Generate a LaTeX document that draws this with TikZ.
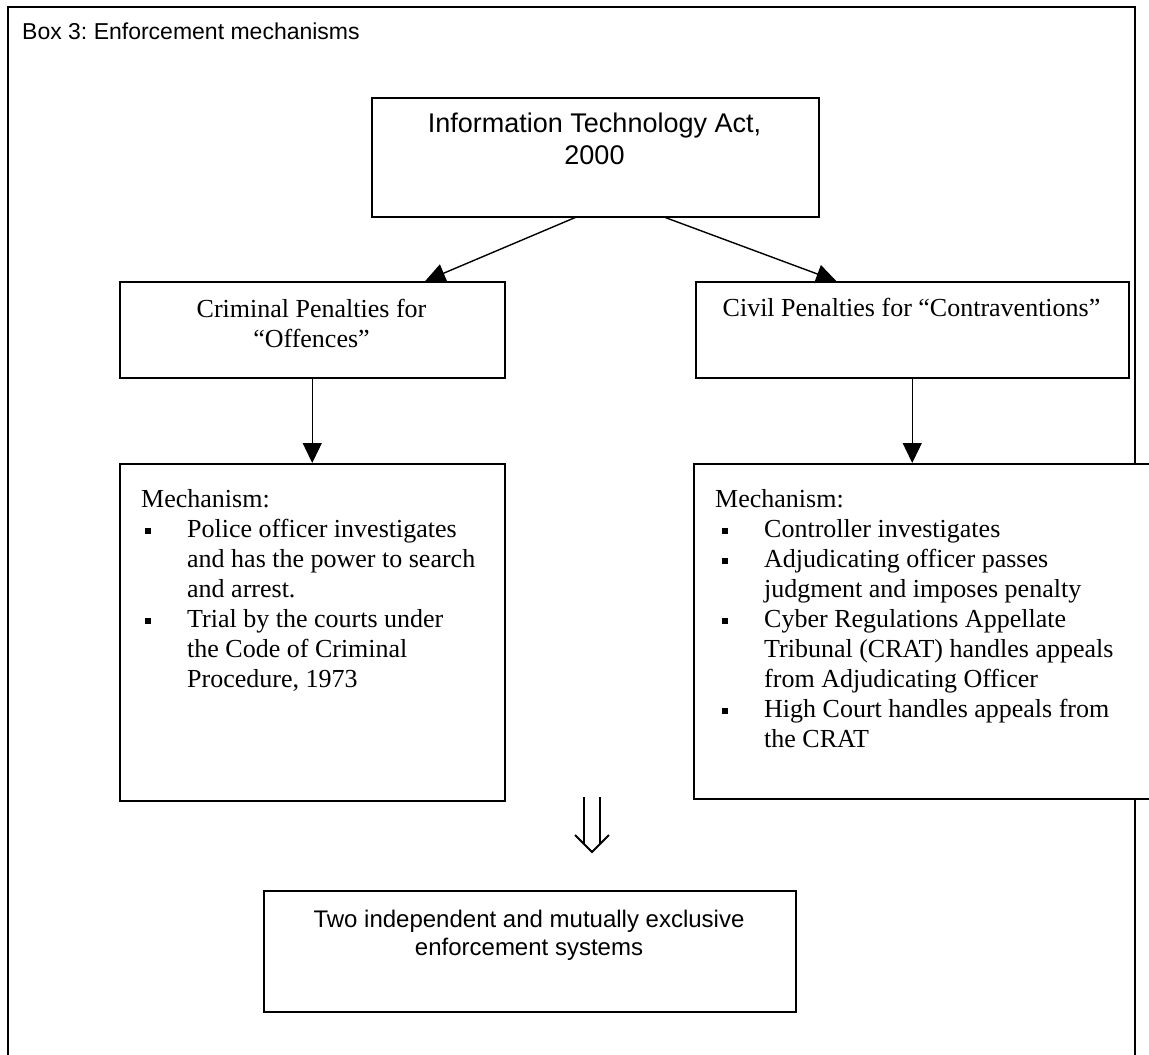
\documentclass[tikz,border=0pt]{standalone}
\usepackage{fontspec}
\setmainfont{Liberation Serif}
\newfontfamily\arialf{Liberation Sans}
\usetikzlibrary{arrows.meta}
\frenchspacing
\begin{document}
\begin{tikzpicture}[x=1pt,y=-1pt,
  box/.style={draw, line width=1.5pt, inner sep=0pt, fill=white},
  conn/.style={line width=1.4pt, -{Triangle[length=20pt,width=19pt]}},
  tms/.style={font=\fontsize{26}{30}\selectfont, inner sep=0pt},
  ari/.style={font=\arialf\fontsize{24}{28}\selectfont, inner sep=0pt},
  arib/.style={font=\arialf\fontsize{27}{32}\selectfont, inner sep=0pt},
  bul/.style={fill, draw=none, inner sep=0pt, minimum size=6pt}
]
\useasboundingbox (0,0) rectangle (1149,1055);
% outer frame
\coordinate (fbl) at (8,1060);
\coordinate (ftl) at (8,7);
\coordinate (ftr) at (1135,7);
\coordinate (fbr) at (1135,1060);
\draw[line width=2.2pt] (fbl) -- (ftl) -- (ftr) -- (fbr);
\node[ari, font=\arialf\fontsize{23}{27}\selectfont, anchor=base west] (title) at (22,39) {Box 3: Enforcement mechanisms};

% boxes
\node[box, minimum width=447pt, minimum height=119pt, anchor=north west] (act) at (371,97) {};
\node[box, minimum width=385pt, minimum height=96pt, anchor=north west] (crim) at (119,281) {};
\node[box, minimum width=433pt, minimum height=96pt, anchor=north west] (civ) at (695,281) {};
\node[box, minimum width=385pt, minimum height=337pt, anchor=north west] (mechL) at (119,463) {};
\node[box, minimum width=475pt, minimum height=335pt, anchor=north west] (mechR) at (693,463) {};
\node[box, minimum width=532pt, minimum height=121pt, anchor=north west] (sys) at (263,890) {};

% texts
\node[arib, anchor=base] (actA) at (594.5,132) {Information Technology Act,};
\node[arib, anchor=base] (actB) at (594.5,164) {2000};
\node[tms, anchor=base] (crimA) at (311.5,317) {Criminal Penalties for};
\node[tms, anchor=base] (crimB) at (311.5,347) {“Offences”};
\node[tms, anchor=base] (civA) at (911.5,316) {Civil Penalties for “Contraventions”};

\node[tms, anchor=base west] (mL0) at (141,507) {Mechanism:};
\node[tms, anchor=base west] (mL1) at (187,537) {Police officer investigates};
\node[tms, anchor=base west] (mL2) at (187,567) {and has the power to search};
\node[tms, anchor=base west] (mL3) at (187,597) {and arrest.};
\node[tms, anchor=base west] (mL4) at (187,627) {Trial by the courts under};
\node[tms, anchor=base west] (mL5) at (187,657) {the Code of Criminal};
\node[tms, anchor=base west] (mL6) at (187,687) {Procedure, 1973};
\node[bul] (bL1) at (148,531) {};
\node[bul] (bL2) at (148,621) {};

\node[tms, anchor=base west] (mR0) at (715,507) {Mechanism:};
\node[tms, anchor=base west] (mR1) at (764,537) {Controller investigates};
\node[tms, anchor=base west] (mR2) at (764,567) {Adjudicating officer passes};
\node[tms, anchor=base west] (mR3) at (764,597) {judgment and imposes penalty};
\node[tms, anchor=base west] (mR4) at (764,627) {Cyber Regulations Appellate};
\node[tms, anchor=base west] (mR5) at (764,657) {Tribunal (CRAT) handles appeals};
\node[tms, anchor=base west] (mR6) at (764,687) {from Adjudicating Officer};
\node[tms, anchor=base west] (mR7) at (764,717) {High Court handles appeals from};
\node[tms, anchor=base west] (mR8) at (764,747) {the CRAT};
\node[bul] (bR1) at (725,531) {};
\node[bul] (bR2) at (725,561) {};
\node[bul] (bR3) at (725,621) {};
\node[bul] (bR4) at (725,711) {};

\node[ari, anchor=base] (sysA) at (529,927) {Two independent and mutually exclusive};
\node[ari, anchor=base] (sysB) at (529,955) {enforcement systems};

% connectors
\draw[conn] ([xshift=-20pt]act.south) -- ([xshift=113pt]crim.north);
\draw[conn] ([xshift=70pt]act.south) -- ([xshift=-76pt]civ.north);
\draw[conn] (crim.south) -- (crim.south |- mechL.north);
\draw[conn] (civ.south) -- (civ.south |- mechR.north);

% double arrow symbol
\coordinate (dl) at (584,797);
\coordinate (dr) at (600,797);
\draw[line width=2pt] (dl) -- (584,844);
\draw[line width=2pt] (dr) -- (600,844);
\draw[line width=2pt, line join=miter] (575,835) -- (592,852) -- (609,835);
\end{tikzpicture}
\end{document}
